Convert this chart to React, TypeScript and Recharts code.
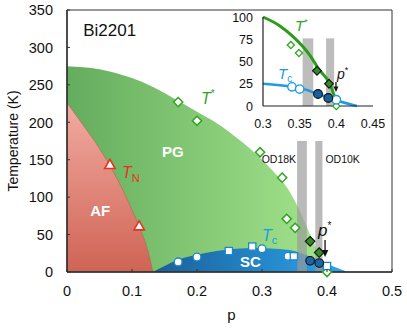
import React from "react";
import {
  Area,
  ComposedChart,
  Label,
  Line,
  ReferenceArea,
  ReferenceDot,
  Scatter,
  XAxis,
  YAxis,
} from "recharts";

const FONT = '"Liberation Sans", Arial, Helvetica, sans-serif';

// ---- main panel ----
const pTicks = [0, 0.1, 0.2, 0.3, 0.4, 0.5];
const tempTicks = [0, 50, 100, 150, 200, 250, 300, 350];

// phase boundaries (p, K)
const pseudogapEdge = [
  { p: 0, t: 275 },
  { p: 0.05, t: 271 },
  { p: 0.1, t: 259 },
  { p: 0.13, t: 248 },
  { p: 0.17, t: 229 },
  { p: 0.2, t: 214 },
  { p: 0.23, t: 199 },
  { p: 0.26, t: 180 },
  { p: 0.28, t: 166 },
  { p: 0.3, t: 150 },
  { p: 0.325, t: 127 },
  { p: 0.34, t: 111 },
  { p: 0.35, t: 96 },
  { p: 0.36, t: 78 },
  { p: 0.37, t: 58 },
  { p: 0.38, t: 38 },
  { p: 0.39, t: 20 },
  { p: 0.405, t: 0 },
];
const neelEdge = [
  { p: 0, t: 226 },
  { p: 0.025, t: 196 },
  { p: 0.05, t: 165 },
  { p: 0.075, t: 128 },
  { p: 0.1, t: 83 },
  { p: 0.115, t: 52 },
  { p: 0.125, t: 27 },
  { p: 0.132, t: 0 },
];
const scDome = [
  { p: 0.132, t: 0 },
  { p: 0.15, t: 8 },
  { p: 0.17, t: 16 },
  { p: 0.2, t: 23 },
  { p: 0.23, t: 28 },
  { p: 0.26, t: 31 },
  { p: 0.29, t: 32 },
  { p: 0.32, t: 31 },
  { p: 0.35, t: 28 },
  { p: 0.375, t: 20 },
  { p: 0.4, t: 11 },
  { p: 0.42, t: 4 },
  { p: 0.432, t: 0 },
];

// measured points
const tStarOpen = [
  { p: 0.171, t: 227 },
  { p: 0.2, t: 202 },
  { p: 0.297, t: 160 },
  { p: 0.331, t: 126 },
  { p: 0.338, t: 71 },
  { p: 0.351, t: 59 },
  { p: 0.4, t: 0 },
];
const tStarFilled = [
  { p: 0.374, t: 41 },
  { p: 0.388, t: 26 },
];
const tNeel = [
  { p: 0.066, t: 143 },
  { p: 0.111, t: 61 },
];
const tcCircles = [
  { p: 0.171, t: 13.5 },
  { p: 0.2, t: 20 },
  { p: 0.3, t: 31 },
  { p: 0.34, t: 21 },
];
const tcSquares = [
  { p: 0.249, t: 28 },
  { p: 0.285, t: 34 },
  { p: 0.349, t: 21 },
  { p: 0.4, t: 8 },
];
const tcFilled = [
  { p: 0.374, t: 15 },
  { p: 0.388, t: 12 },
];

// OD18K / OD10K sample bands
const bandOD18 = [0.354, 0.369];
const bandOD10 = [0.382, 0.393];
const bandTop = 175;

// ---- inset ----
const insetPTicks = [0.3, 0.35, 0.4, 0.45];
const insetTTicks = [0, 25, 50, 75, 100];
const insetTStar = [
  { p: 0.3, t: 100 },
  { p: 0.323, t: 90 },
  { p: 0.341, t: 78 },
  { p: 0.364, t: 57 },
  { p: 0.3755, t: 42 },
  { p: 0.391, t: 25 },
  { p: 0.3995, t: 6 },
];
const insetTc = [
  { p: 0.3, t: 25 },
  { p: 0.34, t: 21.5 },
  { p: 0.36, t: 18 },
  { p: 0.375, t: 13.5 },
  { p: 0.39, t: 9.5 },
  { p: 0.4, t: 6.5 },
  { p: 0.428, t: 0 },
];
const insetTStarOpen = [
  { p: 0.338, t: 68.5 },
  { p: 0.349, t: 59.5 },
  { p: 0.4, t: 0 },
];
const insetTStarFilled = [
  { p: 0.3736, t: 39.6 },
  { p: 0.39, t: 25 },
];
const insetTcOpen = [
  { p: 0.3395, t: 21.5 },
  { p: 0.35, t: 19 },
  { p: 0.4, t: 7 },
];
const insetTcFilled = [
  { p: 0.375, t: 13.5 },
  { p: 0.389, t: 9 },
];
const insetBandOD18 = [0.354, 0.3686];
const insetBandOD10 = [0.386, 0.397];
const insetBandTop = 76;

const GREEN = "#2fa61f";
const BLUE = "#1f9be3";
const RED = "#ea3020";

// marker shapes
const diamond = (r: number, fill: string, stroke: string, sw: number) => (s: any) => (
  <polygon
    points={`${s.cx},${s.cy - r} ${s.cx + r},${s.cy} ${s.cx},${s.cy + r} ${s.cx - r},${s.cy}`}
    fill={fill}
    stroke={stroke}
    strokeWidth={sw}
  />
);
const circle = (r: number, fill: string, stroke: string, sw: number) => (s: any) => (
  <circle cx={s.cx} cy={s.cy} r={r} fill={fill} stroke={stroke} strokeWidth={sw} />
);
const square = (h: number, fill: string, stroke: string, sw: number) => (s: any) => (
  <rect x={s.cx - h} y={s.cy - h} width={2 * h} height={2 * h} fill={fill} stroke={stroke} strokeWidth={sw} />
);
const triangle = (r: number) => (s: any) => (
  <polygon
    points={`${s.cx},${s.cy - r} ${s.cx + r * 0.95},${s.cy + r * 0.65} ${s.cx - r * 0.95},${s.cy + r * 0.65}`}
    fill="#fff"
    stroke={RED}
    strokeWidth={1.6}
  />
);

// text anchored at a data point
function note(key: string, p: number, t: number, draw: (x: number, y: number) => React.ReactElement) {
  return (
    <ReferenceDot
      key={key}
      x={p}
      y={t}
      r={0}
      ifOverflow="visible"
      shape={(s: any) => draw(s.cx, s.cy)}
    />
  );
}

const arrow = (x: number, y: number, len: number, size: number) => (
  <g>
    <line x1={x} x2={x} y1={y - len} y2={y - size} stroke="#111" strokeWidth={1.3} />
    <polygon points={`${x},${y} ${x - size * 0.55},${y - size - 1} ${x + size * 0.55},${y - size - 1}`} fill="#111" />
  </g>
);

const mainXTick = ({ x, y, payload }: any) => (
  <g>
    <line x1={x} x2={x} y1={y} y2={y - 3} stroke="#333" />
    <text x={x} y={y + 24} textAnchor="middle" fontSize={14.5} fill="#111" fontFamily={FONT}>
      {payload.value}
    </text>
  </g>
);
const mainYTick = ({ x, y, payload }: any) => (
  <g>
    <line x1={x} x2={x + 3} y1={y} y2={y} stroke="#333" />
    <text x={x - 14} y={y} dy="0.36em" textAnchor="end" fontSize={14.5} fill="#111" fontFamily={FONT}>
      {payload.value}
    </text>
  </g>
);
const insetXTick = ({ x, y, payload }: any) => (
  <text x={x} y={y + 22} textAnchor="middle" fontSize={12.5} fill="#111" fontFamily={FONT}>
    {payload.value}
  </text>
);
const insetYTick = ({ x, y, payload }: any) => (
  <text x={x - 10} y={y} dy="0.36em" textAnchor="end" fontSize={12.5} fill="#111" fontFamily={FONT}>
    {payload.value}
  </text>
);

function MainPanel() {
  return (
    <ComposedChart width={407} height={331} margin={{ top: 10, right: 15, bottom: 29, left: 0 }}>
      <defs>
        <linearGradient id="pgFill" x1="0" y1="0" x2="1" y2="0">
          <stop offset="0%" stopColor="#64ad5e" />
          <stop offset="100%" stopColor="#a5e48d" />
        </linearGradient>
        <linearGradient id="afFill" x1="0" y1="0" x2="0" y2="1">
          <stop offset="0%" stopColor="#f2aba1" />
          <stop offset="100%" stopColor="#cf6455" />
        </linearGradient>
        <linearGradient id="scFill" x1="0" y1="0" x2="1" y2="0">
          <stop offset="0%" stopColor="#1a5f98" />
          <stop offset="100%" stopColor="#2ca6ec" />
        </linearGradient>
      </defs>
      <XAxis
        type="number"
        dataKey="p"
        domain={[0, 0.5]}
        ticks={pTicks}
        interval={0}
        height={30}
        tickSize={0}
        tickMargin={0}
        tickLine={false}
        axisLine={{ stroke: "#333", strokeWidth: 1.5 }}
        tick={mainXTick}
      >
        <Label
          content={({ viewBox }: any) => (
            <text
              x={viewBox.x + viewBox.width / 2 + 2}
              y={viewBox.y + 48}
              textAnchor="middle"
              fontSize={15}
              fill="#111"
              fontFamily={FONT}
            >
              p
            </text>
          )}
        />
      </XAxis>
      <YAxis
        type="number"
        dataKey="t"
        domain={[0, 350]}
        ticks={tempTicks}
        interval={0}
        width={67}
        tickSize={0}
        tickMargin={0}
        tickLine={false}
        axisLine={{ stroke: "#333", strokeWidth: 1.5 }}
        tick={mainYTick}
      >
        <Label
          content={({ viewBox }: any) => {
            const cx = viewBox.x + 13;
            const cy = viewBox.y + viewBox.height / 2;
            return (
              <text
                x={cx}
                y={cy}
                transform={`rotate(-90 ${cx} ${cy})`}
                textAnchor="middle"
                dominantBaseline="central"
                fontSize={14}
                fill="#111"
                fontFamily={FONT}
              >
                Temperature (K)
              </text>
            );
          }}
        />
      </YAxis>

      <Area data={pseudogapEdge} dataKey="t" type="monotone" fill="url(#pgFill)" fillOpacity={1} stroke="none" isAnimationActive={false} />
      <Area data={neelEdge} dataKey="t" type="monotone" fill="url(#afFill)" fillOpacity={1} stroke="#b8604c" strokeWidth={0.6} isAnimationActive={false} />
      <Area data={scDome} dataKey="t" type="monotone" fill="url(#scFill)" fillOpacity={1} stroke="none" isAnimationActive={false} />

      <ReferenceArea x1={bandOD18[0]} x2={bandOD18[1]} y1={0} y2={bandTop} fill="#9a9a9a" fillOpacity={0.68} stroke="none" />
      <ReferenceArea x1={bandOD10[0]} x2={bandOD10[1]} y1={0} y2={bandTop} fill="#9a9a9a" fillOpacity={0.68} stroke="none" />

      <ReferenceArea x1={0} x2={0.5} y1={0} y2={350} fill="none" stroke="#333" strokeWidth={1} ifOverflow="visible" />

      <Scatter data={tNeel} shape={triangle(5.5)} isAnimationActive={false} />
      <Scatter data={tStarOpen} shape={diamond(4.6, "#fff", GREEN, 1.5)} isAnimationActive={false} />
      <Scatter data={tcCircles} shape={circle(3.9, "#fff", "#1d86cf", 1.3)} isAnimationActive={false} />
      <Scatter data={tcSquares} shape={square(3.6, "#fff", "#1d86cf", 1.3)} isAnimationActive={false} />
      <Scatter data={tStarFilled} shape={diamond(4.8, "#2f8d22", "#111", 1.1)} isAnimationActive={false} />
      <Scatter data={tcFilled} shape={circle(4.3, "#1b67a6", "#111", 1.1)} isAnimationActive={false} />

      {note("bi", 0.025, 315, (x, y) => (
        <text x={x} y={y} fontSize={17} fill="#111" fontFamily={FONT}>Bi2201</text>
      ))}
      {note("pg", 0.163, 154, (x, y) => (
        <text x={x} y={y} textAnchor="middle" fontSize={15} fontWeight="bold" fill="#fff" fontFamily={FONT}>PG</text>
      ))}
      {note("af", 0.051, 75, (x, y) => (
        <text x={x} y={y} textAnchor="middle" fontSize={15} fontWeight="bold" fill="#fff" fontFamily={FONT}>AF</text>
      ))}
      {note("sc", 0.282, 7, (x, y) => (
        <text x={x} y={y} textAnchor="middle" fontSize={15} fontWeight="bold" fill="#fff" fontFamily={FONT}>SC</text>
      ))}
      {note("od18", bandOD18[0], 146, (x, y) => (
        <text x={x - 1} y={y} textAnchor="end" fontSize={10.5} fill="#111" fontFamily={FONT}>OD18K</text>
      ))}
      {note("od10", bandOD10[1], 146, (x, y) => (
        <text x={x + 3} y={y} textAnchor="start" fontSize={10.5} fill="#111" fontFamily={FONT}>OD10K</text>
      ))}
      {note("tstar", 0.206, 224, (x, y) => (
        <text x={x} y={y} fontSize={16} fill={GREEN} fontFamily={FONT}>
          <tspan fontStyle="italic">T</tspan>
          <tspan dy={-7} fontSize={10}>*</tspan>
        </text>
      ))}
      {note("tn", 0.0846, 126, (x, y) => (
        <text x={x} y={y} fontSize={16} fill={RED} fontFamily={FONT}>
          <tspan fontStyle="italic">T</tspan>
          <tspan dy={4} fontSize={11}>N</tspan>
        </text>
      ))}
      {note("tc", 0.3, 41, (x, y) => (
        <text x={x} y={y} fontSize={16} fill={BLUE} fontFamily={FONT}>
          <tspan fontStyle="italic">T</tspan>
          <tspan dy={3} fontSize={11}>c</tspan>
        </text>
      ))}
      {note("pstar", 0.397, 20, (x, y) => (
        <g>
          <text x={x - 7} y={y - 21} fontSize={17} fill="#111" fontFamily={FONT}>
            <tspan fontStyle="italic">p</tspan>
            <tspan dy={-7} fontSize={10}>*</tspan>
          </text>
          {arrow(x, y, 17, 6)}
        </g>
      ))}
    </ComposedChart>
  );
}

function InsetPanel() {
  return (
    <ComposedChart width={160} height={130} margin={{ top: 15, right: 12, bottom: 6, left: 0 }}>
      <XAxis
        type="number"
        dataKey="p"
        domain={[0.3, 0.45]}
        ticks={insetPTicks}
        interval={0}
        height={20}
        tickSize={0}
        tickMargin={0}
        tickLine={false}
        axisLine={{ stroke: "#222", strokeWidth: 1.2 }}
        tick={insetXTick}
      />
      <YAxis
        type="number"
        dataKey="t"
        domain={[0, 100]}
        ticks={insetTTicks}
        interval={0}
        width={38}
        tickSize={0}
        tickMargin={0}
        tickLine={false}
        axisLine={{ stroke: "#222", strokeWidth: 1.2 }}
        tick={insetYTick}
      />
      <ReferenceArea x1={insetBandOD18[0]} x2={insetBandOD18[1]} y1={0} y2={insetBandTop} fill="#bdbdbd" fillOpacity={1} stroke="none" />
      <ReferenceArea x1={insetBandOD10[0]} x2={insetBandOD10[1]} y1={0} y2={insetBandTop} fill="#bdbdbd" fillOpacity={1} stroke="none" />

      <Line data={insetTc} dataKey="t" type="monotone" stroke={BLUE} strokeWidth={2.5} dot={false} isAnimationActive={false} />
      <Line data={insetTStar} dataKey="t" type="monotone" stroke="#2a9e18" strokeWidth={3} dot={false} isAnimationActive={false} />

      <Scatter data={insetTStarOpen} shape={diamond(3.6, "#fff", GREEN, 1.3)} isAnimationActive={false} />
      <Scatter data={insetTcOpen} shape={circle(4.2, "#fff", BLUE, 1.4)} isAnimationActive={false} />
      <Scatter data={insetTStarFilled} shape={diamond(4.4, "#2f8d22", "#111", 1.1)} isAnimationActive={false} />
      <Scatter data={insetTcFilled} shape={circle(4.4, "#1b5f98", "#111", 1.1)} isAnimationActive={false} />

      {note("itstar", 0.3436, 84, (x, y) => (
        <text x={x} y={y} fontSize={15} fill={GREEN} fontFamily={FONT}>
          <tspan fontStyle="italic">T</tspan>
          <tspan dy={-6} fontSize={9}>*</tspan>
        </text>
      ))}
      {note("itc", 0.3205, 30, (x, y) => (
        <text x={x} y={y} fontSize={15} fill={BLUE} fontFamily={FONT}>
          <tspan fontStyle="italic">T</tspan>
          <tspan dy={3} fontSize={10}>c</tspan>
        </text>
      ))}
      {note("ipstar", 0.3995, 15.7, (x, y) => (
        <g>
          <text x={x + 1} y={y - 13} fontSize={14} fill="#111" fontFamily={FONT}>
            <tspan fontStyle="italic">p</tspan>
            <tspan dy={-6} fontSize={9}>*</tspan>
          </text>
          {arrow(x, y, 10, 4.5)}
        </g>
      ))}
    </ComposedChart>
  );
}

export default function App() {
  return (
    <div style={{ position: "absolute", left: 0, top: 0, width: 407, height: 331, background: "#fff" }}>
      <MainPanel />
      <div style={{ position: "absolute", left: 225, top: 2 }}>
        <InsetPanel />
      </div>
    </div>
  );
}
